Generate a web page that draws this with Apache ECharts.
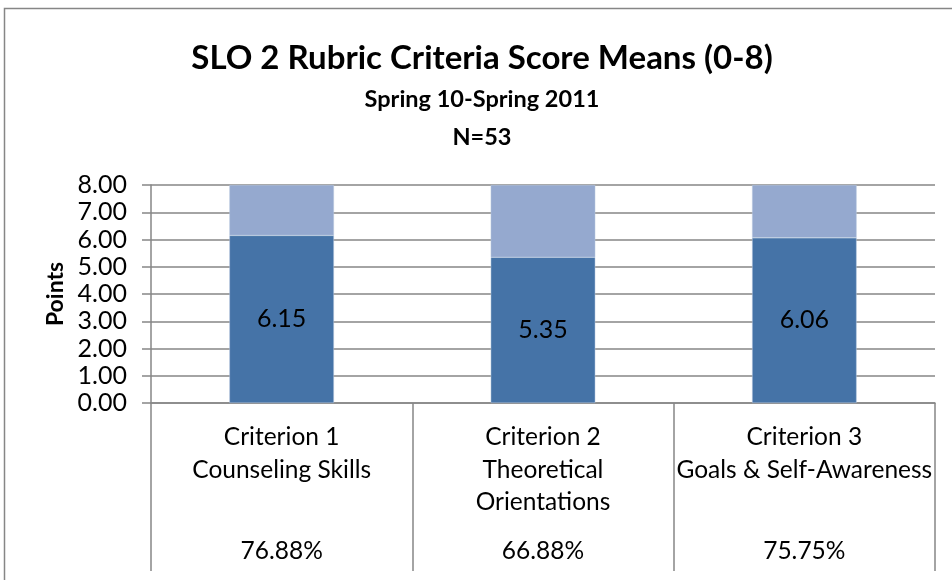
<!DOCTYPE html>
<html>
<head>
<meta charset="utf-8">
<script src="https://cdn.jsdelivr.net/npm/echarts@6/dist/echarts.min.js"></script>
<style>
html,body{margin:0;padding:0;background:#fff;}
#chart{width:952px;height:580px;}
</style>
</head>
<body>
<div id="chart"></div>
<script>
var categories = ["Criterion 1\nCounseling Skills\n ", "Criterion 2\nTheoretical\nOrientations", "Criterion 3\nGoals & Self-Awareness\n "];
var percentLabels = ["76.88%", "66.88%", "75.75%"];
var meanScores = [6.15, 5.35, 6.06];
var remainderToMax = [1.85, 2.65, 1.94];
var yTicks = ["0.00","1.00","2.00","3.00","4.00","5.00","6.00","7.00","8.00"];

var FONT = "Lato, 'Open Sans', sans-serif";
var chart = echarts.init(document.getElementById('chart'));
var option = {
  animation: false,
  textStyle: {fontFamily: FONT},
  title: [
    {text: 'SLO 2 Rubric Criteria Score Means (0-8)', left: 477, top: 37, textAlign: 'center',
     textStyle: {fontFamily: FONT, fontSize: 33, fontWeight: 'bold', color: '#000'}},
    {text: 'Spring 10-Spring 2011', left: 477, top: 82, textAlign: 'center',
     textStyle: {fontFamily: FONT, fontSize: 23.5, fontWeight: 'bold', color: '#000'}},
    {text: 'N=53', left: 477, top: 120, textAlign: 'center',
     textStyle: {fontFamily: FONT, fontSize: 23.5, fontWeight: 'bold', color: '#000'}}
  ],
  graphic: [{
    type: 'rect', shape: {x: 4.5, y: 8.5, width: 1200, height: 1200},
    style: {fill: 'none', stroke: '#868686', lineWidth: 1.5}, silent: true
  }],
  grid: {left: 151, right: 17, top: 185, bottom: 177, containLabel: false},
  xAxis: {
    type: 'category',
    data: categories,
    axisLine: {show: true, lineStyle: {color: '#868686', width: 1.5}},
    axisTick: {show: true, length: 168, lineStyle: {color: '#868686', width: 1.5}},
    axisLabel: {
      interval: 0, margin: 18, color: '#000',
      formatter: function (v, i) {
        var lines = v.split('\n').map(function (s) { return '{a|' + s + '}'; });
        return lines.join('\n') + '\n{p|' + percentLabels[i] + '}';
      },
      rich: {
        a: {fontFamily: FONT, fontSize: 24.5, lineHeight: 32.5, color: '#000'},
        p: {fontFamily: FONT, fontSize: 24.5, lineHeight: 66, color: '#000'}
      }
    }
  },
  yAxis: {
    type: 'value', min: 0, max: 8, interval: 1,
    name: 'Points', nameLocation: 'middle', nameGap: 76, nameRotate: 90,
    nameTextStyle: {fontFamily: FONT, fontSize: 23, fontWeight: 'bold', color: '#000'},
    axisLine: {show: true, lineStyle: {color: '#868686', width: 1.5}},
    axisTick: {show: true, length: 9, lineStyle: {color: '#868686', width: 1.5}},
    splitLine: {show: true, lineStyle: {color: '#868686', width: 1.5}},
    axisLabel: {
      margin: 24, color: '#000', fontFamily: FONT, fontSize: 25,
      formatter: function (v) { return yTicks[Math.round(v)]; }
    }
  },
  series: [
    {
      type: 'bar', stack: 'total', data: meanScores, barWidth: '40%',
      itemStyle: {color: '#4573A7', borderColor: '#B9C8DF', borderWidth: 0.5},
      label: {show: true, position: 'inside', color: '#000', fontFamily: FONT, fontSize: 25,
              formatter: function (p) { return p.value.toFixed(2); }}
    },
    {
      type: 'bar', stack: 'total', data: remainderToMax, barWidth: '40%',
      itemStyle: {color: '#95A9CF', borderColor: '#B9C8DF', borderWidth: 0.5}
    }
  ]
};
chart.setOption(option);
</script>
</body>
</html>
